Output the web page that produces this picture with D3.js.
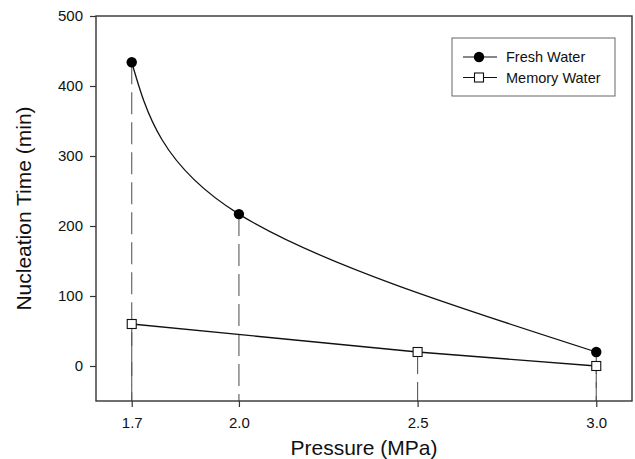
<!DOCTYPE html>
<html>
<head>
<meta charset="utf-8">
<script src="https://cdn.jsdelivr.net/npm/d3@7"></script>
<style>
  body { margin: 0; background: #fff; }
  text { font-family: "Liberation Sans", Arial, sans-serif; fill: #111; }
</style>
</head>
<body>
<svg id="chart" width="635" height="459"></svg>
<script>
// data
var pressure = [1.7, 2.0, 2.5, 3.0];
var freshX = [1.7, 2.0, 3.0],
    freshY = [434, 217, 20];
var memoryX = [1.7, 2.5, 3.0],
    memoryY = [60, 20, 0];
var yTicks = [0, 100, 200, 300, 400, 500];
var seriesNames = ["Fresh Water", "Memory Water"];

var svg = d3.select("#chart"),
    margin = {top: 16, right: 3, bottom: 58, left: 96},
    width = 635,
    height = 459;

var x = d3.scaleLinear().domain([1.6, 3.1]).range([margin.left, width - margin.right]);
var y = d3.scaleLinear().domain([-50, 500]).range([height - margin.bottom, margin.top]);

var fresh = freshX.map(function(d, i) { return {x: d, y: freshY[i]}; });
var memory = memoryX.map(function(d, i) { return {x: d, y: memoryY[i]}; });

// dashed drop lines from every point to the x axis
var drops = fresh.concat(memory);
svg.append("g").selectAll("line")
  .data(drops)
  .enter().append("line")
    .attr("x1", function(d) { return x(d.x); })
    .attr("x2", function(d) { return x(d.x); })
    .attr("y1", function(d) { return y(d.y); })
    .attr("y2", y(-50))
    .attr("stroke", "#5a5a5a")
    .attr("stroke-width", 1.1)
    .attr("stroke-dasharray", "22,8");

// frame
svg.append("rect")
  .attr("x", x(1.6)).attr("y", y(500))
  .attr("width", x(3.1) - x(1.6)).attr("height", y(-50) - y(500))
  .attr("fill", "none").attr("stroke", "#333").attr("stroke-width", 1.4);

// axes
var xAxis = svg.append("g")
  .attr("transform", "translate(0," + y(-50) + ")")
  .call(d3.axisBottom(x).tickValues(pressure).tickFormat(d3.format(".1f")).tickSize(6).tickPadding(10));
var yAxis = svg.append("g")
  .attr("transform", "translate(" + x(1.6) + ",0)")
  .call(d3.axisLeft(y).tickValues(yTicks).tickSize(6).tickPadding(7));

[xAxis, yAxis].forEach(function(ax) {
  ax.select(".domain").remove();
  ax.selectAll(".tick line").attr("stroke", "#333").attr("stroke-width", 1.2);
  ax.selectAll("text").attr("font-size", 15).attr("fill", "#111")
    .attr("font-family", "Liberation Sans, Arial, sans-serif");
});

// series lines
var freshLine = d3.line()
  .x(function(d) { return x(d.x); })
  .y(function(d) { return y(d.y); })
  .curve(d3.curveNatural);
var memoryLine = d3.line()
  .x(function(d) { return x(d.x); })
  .y(function(d) { return y(d.y); });

svg.append("path").datum(fresh)
  .attr("d", freshLine).attr("fill", "none").attr("stroke", "#111").attr("stroke-width", 1.3);
svg.append("path").datum(memory)
  .attr("d", memoryLine).attr("fill", "none").attr("stroke", "#111").attr("stroke-width", 1.3);

// markers
svg.append("g").selectAll("circle")
  .data(fresh)
  .enter().append("circle")
    .attr("cx", function(d) { return x(d.x); })
    .attr("cy", function(d) { return y(d.y); })
    .attr("r", 5.2)
    .attr("fill", "#000");
svg.append("g").selectAll("rect")
  .data(memory)
  .enter().append("rect")
    .attr("x", function(d) { return x(d.x) - 4.5; })
    .attr("y", function(d) { return y(d.y) - 4.5; })
    .attr("width", 9).attr("height", 9)
    .attr("fill", "#fff").attr("stroke", "#111").attr("stroke-width", 1.1);

// axis titles
svg.append("text")
  .attr("x", (x(1.6) + x(3.1)) / 2).attr("y", 455)
  .attr("text-anchor", "middle").attr("font-size", 21)
  .text("Pressure (MPa)");
svg.append("text")
  .attr("transform", "translate(31," + (y(-50) + y(500)) / 2 + ") rotate(-90)")
  .attr("text-anchor", "middle").attr("font-size", 21)
  .text("Nucleation Time (min)");

// legend
var legend = svg.append("g").attr("transform", "translate(452,38)");
legend.append("rect")
  .attr("width", 163).attr("height", 58)
  .attr("fill", "#fff").attr("stroke", "#666").attr("stroke-width", 1);
var rows = legend.selectAll("g.row")
  .data(seriesNames)
  .enter().append("g")
    .attr("class", "row")
    .attr("transform", function(d, i) { return "translate(0," + (19 + i * 20.5) + ")"; });
rows.append("line")
  .attr("x1", 11).attr("x2", 45)
  .attr("stroke", "#111").attr("stroke-width", 1.2);
rows.each(function(d, i) {
  var g = d3.select(this);
  if (i === 0) {
    g.append("circle").attr("cx", 27).attr("r", 5.2).attr("fill", "#000");
  } else {
    g.append("rect").attr("x", 22.5).attr("y", -4.5).attr("width", 9).attr("height", 9)
      .attr("fill", "#fff").attr("stroke", "#111").attr("stroke-width", 1.1);
  }
});
rows.append("text")
  .attr("x", 54).attr("dy", "0.35em")
  .attr("font-size", 14.5)
  .text(function(d) { return d; });
</script>
</body>
</html>
